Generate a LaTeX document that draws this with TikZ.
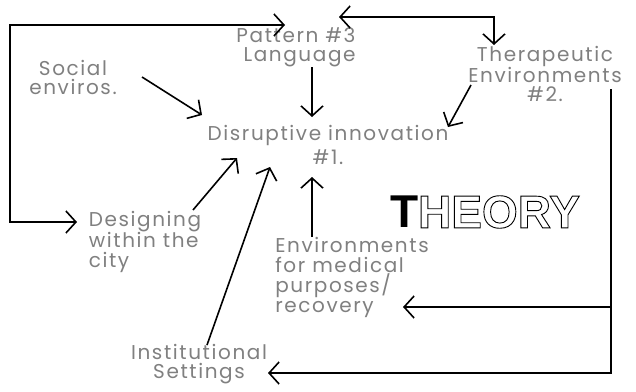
\documentclass[tikz,border=0pt]{standalone}
\usepackage{fontspec}
\newfontfamily\handfont[LetterSpace=8]{Poppins}
\newfontfamily\blockfont{Liberation Sans}
\usetikzlibrary{arrows.meta,calc}
\tikzset{
  hand/.style={font=\handfont\fontsize{20}{19}\selectfont, text=black!50, inner sep=0pt},
  arr/.style={line width=1.6pt, -{Straight Barb[length=10pt,width=22pt,line width=1.6pt]}},
  arrs/.style={line width=1.6pt, {Straight Barb[length=10pt,width=22pt,line width=1.6pt]}-{Straight Barb[length=10pt,width=22pt,line width=1.6pt]}},
  block/.style={font=\blockfont\bfseries\fontsize{46}{46}\selectfont, inner sep=0pt}
}
\newcommand\outlinetext[1]{\special{pdf:literal direct 1 Tr 0.9 w}#1\special{pdf:literal direct 0 Tr}}
\begin{document}
\begin{tikzpicture}[x=1pt,y=-1pt]
\useasboundingbox[fill=white] (0,0) rectangle (636,391);
% the ideas
\node[hand, align=right] (pattern) at (296,47) {Pattern \#3\\Language};
\node[hand, align=center] (social) at (73,77) {Social\\enviros.};
\node[hand, align=center] (disrupt) at (328,145) {Disruptive innovation\\[3pt]\#1.};
\node[hand, align=center] (therap) at (545,74) {Therapeutic\\Environments\\\#2.};
\node[hand, align=left, font=\handfont\fontsize{20}{20}\selectfont] (designing) at (145,242) {Designing\\within the\\city};
\node[hand, align=left, font=\handfont\fontsize{20}{20}\selectfont] (envir) at (352,277) {Environments\\for medical\\purposes/\\recovery};
\node[hand, align=center] (instit) at (199,364) {Institutional\\Settings};
% THEORY, outlined
\node[block] (theory) at (485,212) {T\outlinetext{HEORY}};
% loops round the page
\coordinate (lcorner) at (10,25);
\draw[arrs] ($(designing)+(-68,-20)$) -| (lcorner) -- ($(pattern)+(-11,-22)$);
\draw[arrs] ($(pattern)+(43,-30)$) -| ($(therap)+(-51,-29)$);
\coordinate (rtop) at ($(therap)+(66,15)$);
\coordinate (etip) at ($(envir)+(51,30)$);
\draw[arr] (rtop) |- ($(instit)+(69,9)$);
\draw[arr] (rtop |- etip) -- (etip);
% into the main idea
\draw[arr] ($(social)+(69,0)$) -- ($(disrupt)+(-126,-30)$);
\draw[arr] ($(pattern)+(16,20)$) -- ($(disrupt)+(-16,-28)$);
\draw[arr] ($(therap)+(-74,11)$) -- ($(disrupt)+(120,-18)$);
\draw[arr] ($(designing)+(48,-32)$) -- ($(disrupt)+(-91,13)$);
\draw[arr] ($(instit)+(8,-19)$) -- ($(disrupt)+(-58,22)$);
\draw[arr] ($(envir)+(-40,-40)$) -- ($(disrupt)+(-16,32)$);
\end{tikzpicture}
\end{document}
